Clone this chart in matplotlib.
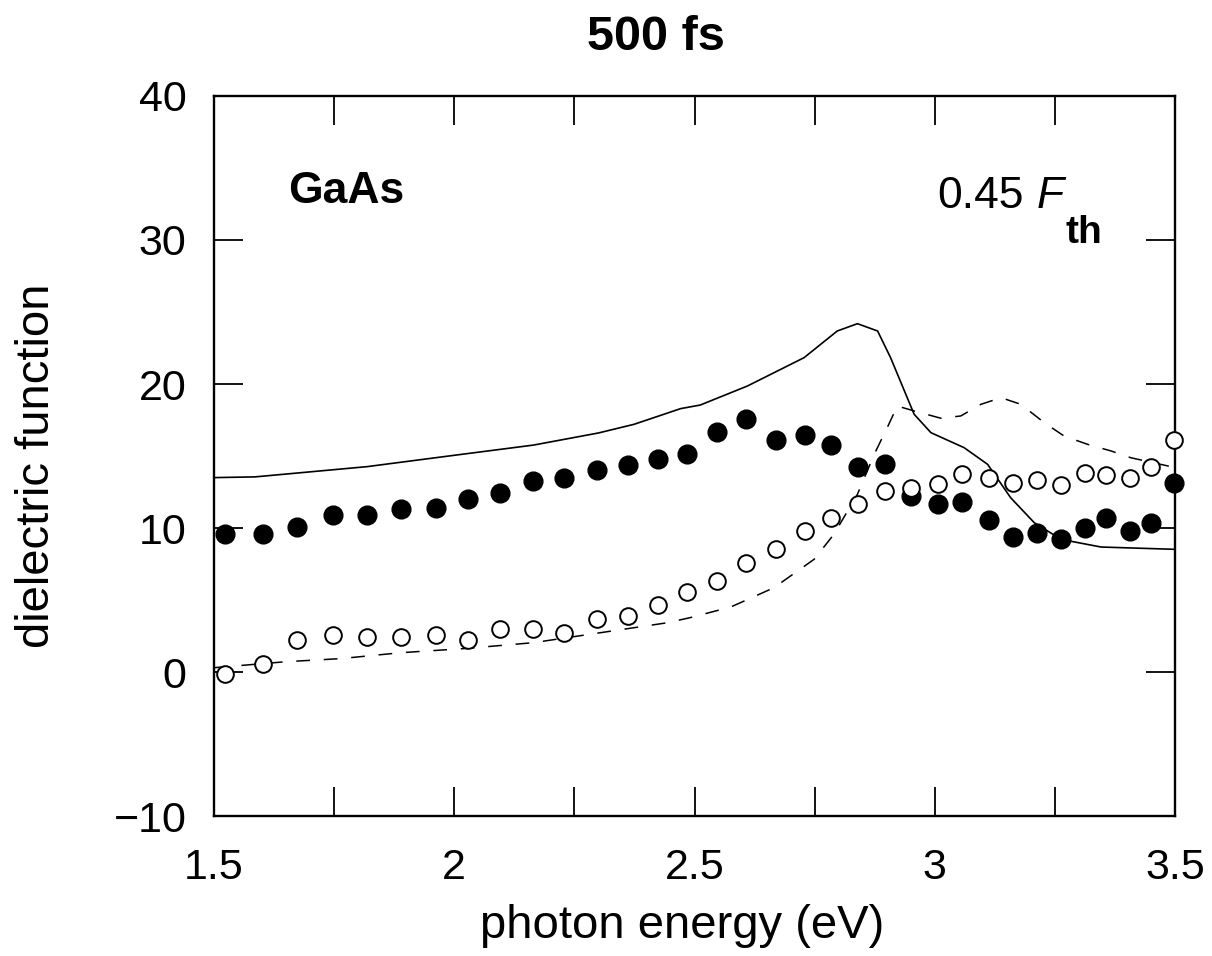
import matplotlib
matplotlib.use("Agg")
import matplotlib.pyplot as plt
from matplotlib.ticker import MultipleLocator, FixedLocator, FixedFormatter

plt.rcParams["font.family"] = ["Liberation Sans", "DejaVu Sans"]

# measured points: filled = real part, open = imaginary part
point_energy = [1.523, 1.602, 1.673, 1.747, 1.818, 1.890, 1.962, 2.028, 2.096, 2.163,
                2.228, 2.296, 2.362, 2.424, 2.485, 2.546, 2.607, 2.669, 2.729, 2.785,
                2.841, 2.896, 2.951, 3.007, 3.056, 3.112, 3.163, 3.213, 3.263, 3.313,
                3.357, 3.407, 3.451, 3.497]
eps_real = [9.56, 9.6, 10.1, 10.9, 10.9, 11.3, 11.4, 12.0, 12.4, 13.25,
            13.5, 14.0, 14.4, 14.8, 15.15, 16.67, 17.59, 16.09, 16.46, 15.74,
            14.26, 14.44, 12.22, 11.65, 11.83, 10.56, 9.40, 9.63, 9.26, 9.98,
            10.72, 9.79, 10.37, 13.15]
eps_imag = [-0.16, 0.58, 2.2, 2.6, 2.4, 2.4, 2.6, 2.2, 2.97, 2.97,
            2.73, 3.66, 3.89, 4.65, 5.56, 6.32, 7.59, 8.52, 9.79, 10.72,
            11.65, 12.57, 12.8, 13.03, 13.73, 13.49, 13.15, 13.31, 12.97, 13.84,
            13.68, 13.49, 14.26, 16.09]

# reference (unexcited) dielectric function
ref_real_energy = [1.5, 1.585, 1.818, 2.0, 2.165, 2.3, 2.374, 2.471, 2.512, 2.61,
                   2.728, 2.797, 2.839, 2.881, 2.908, 2.957, 2.992, 3.061, 3.11, 3.158,
                   3.207, 3.263, 3.346, 3.5]
ref_real = [13.5, 13.55, 14.26, 15.05, 15.76, 16.6, 17.2, 18.29, 18.54, 19.86,
            21.83, 23.68, 24.19, 23.68, 21.83, 17.9, 16.62, 15.58, 14.42, 12.1,
            10.37, 9.21, 8.68, 8.52]
ref_imag_energy = [1.5, 1.651, 1.763, 1.888, 2.026, 2.165, 2.304, 2.443, 2.49, 2.575,
                   2.665, 2.749, 2.79, 2.839, 2.874, 2.901, 2.922, 2.957, 3.013, 3.054,
                   3.096, 3.138, 3.179, 3.228, 3.269, 3.318, 3.367, 3.408, 3.5]
ref_imag = [0.3, 0.72, 0.93, 1.34, 1.64, 2.04, 2.73, 3.42, 3.77, 4.51,
            5.85, 7.83, 9.56, 12.34, 15.12, 16.97, 18.47, 18.13, 17.62, 17.78,
            18.59, 19.05, 18.59, 17.31, 16.39, 15.81, 15.35, 14.88, 14.2]

x_ticks = [1.5, 2.0, 2.5, 3.0, 3.5]
x_tick_labels = ["1.5", "2", "2.5", "3", "3.5"]

fig = plt.figure(figsize=(12.12, 9.56), dpi=100)
ax = fig.add_axes([0.1766, 0.1464, 0.7929, 0.7532])

ax.plot(ref_real_energy, ref_real, color="black", linewidth=1.2)
ax.plot(ref_imag_energy, ref_imag, color="black", linewidth=1.1, linestyle=(0, (9, 9)))
ax.plot(point_energy, eps_real, "o", color="black", markersize=13.5, clip_on=False, zorder=3)
ax.plot(point_energy, eps_imag, "o", markerfacecolor="white", markeredgecolor="black",
        markeredgewidth=1.4, markersize=12, clip_on=False, zorder=3)

ax.set_xlim(1.5, 3.5)
ax.set_ylim(-10, 40)
ax.xaxis.set_major_locator(FixedLocator(x_ticks))
ax.xaxis.set_major_formatter(FixedFormatter(x_tick_labels))
ax.xaxis.set_minor_locator(MultipleLocator(0.25))
ax.yaxis.set_major_locator(MultipleLocator(10))
ax.tick_params(which="both", direction="in", top=True, right=True, length=21,
               width=1.3, labelsize=31, pad=23)
ax.tick_params(axis="y", pad=20)
for spine in ax.spines.values():
    spine.set_linewidth(1.7)

ax.set_xlabel("photon energy (eV)", fontsize=34)
ax.set_ylabel("dielectric function", fontsize=34)
ax.xaxis.set_label_coords(0.487, -0.122)
ax.yaxis.set_label_coords(-0.161, 0.487)

fig.text(655.5 / 1212, 1 - 50 / 956, "500 fs", fontsize=35, fontweight="bold",
         ha="center", va="baseline")
fig.text(288 / 1212, 1 - 203 / 956, "GaAs", fontsize=32, fontweight="bold",
         ha="left", va="baseline")
fig.text(937 / 1212, 1 - 208 / 956, "0.45", fontsize=32, ha="left", va="baseline")
fig.text(1037 / 1212, 1 - 208 / 956, "F", fontsize=32, style="italic", ha="left", va="baseline")
fig.text(1066 / 1212, 1 - 243 / 956, "th", fontsize=28, fontweight="bold", ha="left", va="baseline")

fig.savefig("out.png", dpi=100)
